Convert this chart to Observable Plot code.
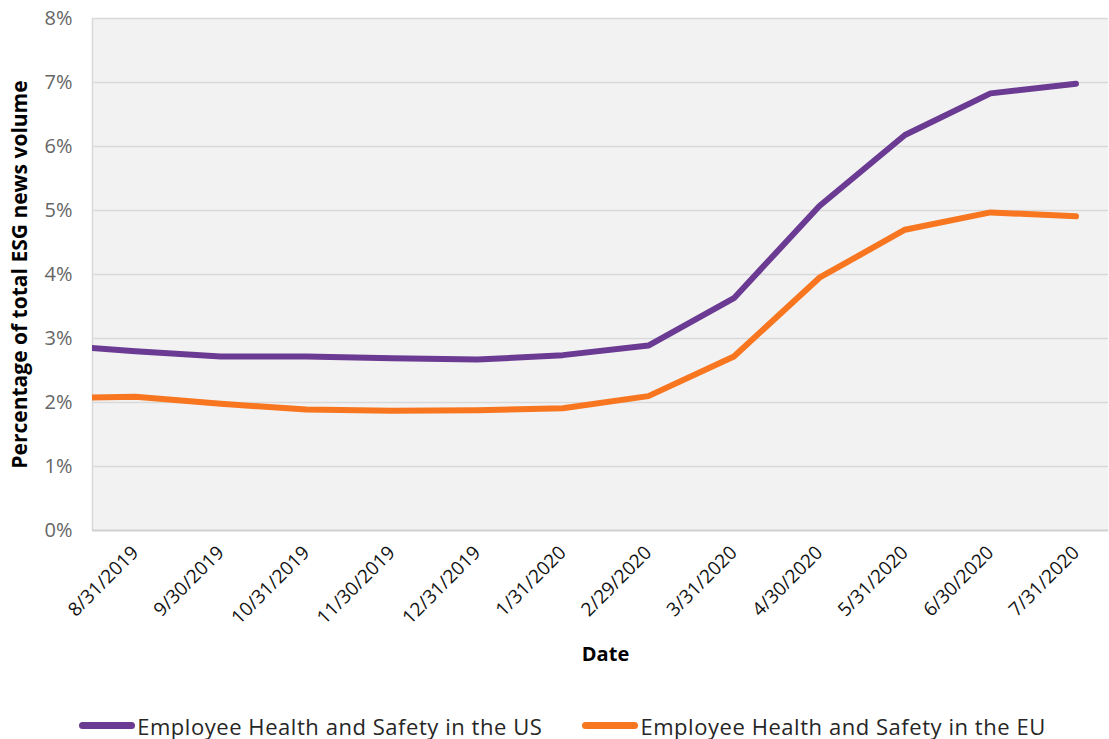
<!DOCTYPE html>
<html>
<head>
<meta charset="utf-8">
<script src="https://cdn.jsdelivr.net/npm/d3@7"></script>
<script src="https://cdn.jsdelivr.net/npm/@observablehq/plot@0.6"></script>
<style>
  body { margin: 0; background: #fff; font-family: "Open Sans", sans-serif; }
  #legend { display: flex; justify-content: center; align-items: center; height: 39px; padding-left: 16px; padding-top: 6px;
            font-family: "Open Sans", sans-serif; font-size: 22px; color: #262626; letter-spacing: 0.55px; }
  .item { display: flex; align-items: center; margin: 0 20px; }
  .sw { width: 56px; height: 7px; border-radius: 4px; margin-right: 2px; }
</style>
</head>
<body>
<div id="chart"></div>
<div id="legend"></div>
<script>
const dates = ["7/31/2019","8/31/2019","9/30/2019","10/31/2019","11/30/2019","12/31/2019","1/31/2020","2/29/2020","3/31/2020","4/30/2020","5/31/2020","6/30/2020","7/31/2020"];
const usValues = [2.90, 2.80, 2.72, 2.72, 2.69, 2.67, 2.74, 2.89, 3.63, 5.07, 6.18, 6.83, 6.98];
const euValues = [2.07, 2.09, 1.98, 1.89, 1.87, 1.88, 1.91, 2.10, 2.72, 3.95, 4.70, 4.97, 4.91];
const seriesNames = ["Employee Health and Safety in the US", "Employee Health and Safety in the EU"];
const seriesColors = ["#6b3a92", "#f7761f"];
const yTicks = [0, 1, 2, 3, 4, 5, 6, 7, 8];

const rows = [];
dates.forEach((d, i) => {
  rows.push({idx: i - 1, date: d, value: usValues[i], series: seriesNames[0]});
  rows.push({idx: i - 1, date: d, value: euValues[i], series: seriesNames[1]});
});
const tickIdx = dates.slice(1).map((d, i) => i);

const chart = Plot.plot({
  width: 1109,
  height: 700,
  marginLeft: 92,
  marginRight: 1,
  marginTop: 18,
  marginBottom: 170,
  style: {fontFamily: "Open Sans, sans-serif", background: "#fff"},
  x: {domain: [-0.5, 11.38], axis: null},
  y: {domain: [0, 8], axis: null},
  color: {domain: seriesNames, range: seriesColors},
  marks: [
    Plot.frame({fill: "#f2f2f2", stroke: null}),
    Plot.gridY(yTicks.slice(1), {stroke: "#d9d9d9", strokeOpacity: 1, strokeWidth: 1.6}),
    Plot.ruleX([-0.5], {stroke: "#d9d9d9", strokeWidth: 1.6}),
    Plot.ruleY([0], {stroke: "#d0d0d0", strokeWidth: 2.2}),
    Plot.axisY(yTicks, {tickSize: 0, tickPadding: 20, tickFormat: d => d + "%", fontSize: 20, fill: "#666", label: null}),
    Plot.axisX(tickIdx, {tickSize: 0, tickPadding: 19, tickRotate: -45, tickFormat: i => dates[i + 1], fontSize: 19, fill: "#111", label: null}),
    Plot.line(rows, {x: "idx", y: "value", z: "series", stroke: "series", strokeWidth: 6, clip: true, strokeLinecap: "round", strokeLinejoin: "round"}),
    Plot.text(["Percentage of total ESG news volume"], {frameAnchor: "left", dx: -72, rotate: -90, textAnchor: "middle", fontWeight: "bold", fontSize: 21, fill: "#000", letterSpacing: 1}),
    Plot.text(["Date"], {frameAnchor: "bottom", dy: 130, dx: 5, fontWeight: "bold", fontSize: 20, fill: "#000"})
  ]
});
document.getElementById("chart").appendChild(chart);

const legend = document.getElementById("legend");
seriesNames.forEach((n, i) => {
  const it = document.createElement("div");
  it.className = "item";
  const sw = document.createElement("div");
  sw.className = "sw";
  sw.style.background = seriesColors[i];
  const t = document.createElement("span");
  t.textContent = n;
  it.appendChild(sw); it.appendChild(t);
  legend.appendChild(it);
});
</script>
</body>
</html>
